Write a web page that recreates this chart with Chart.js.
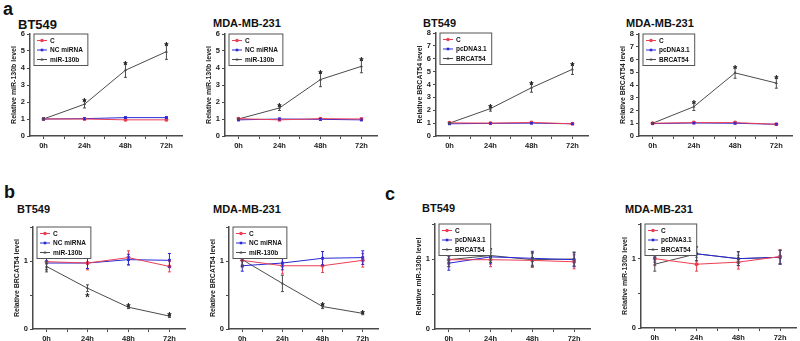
<!DOCTYPE html>
<html>
<head>
<meta charset="utf-8">
<script src="https://cdn.jsdelivr.net/npm/chart.js@4/dist/chart.umd.min.js"></script>
<style>
  body { margin: 0; width: 800px; height: 341px; background: #fff; position: relative; overflow: hidden;
         font-family: "Liberation Sans", Arial, sans-serif; }
  .lbl { position: absolute; font-weight: bold; color: #111; white-space: nowrap; line-height: 1; }
  canvas { position: absolute; }
</style>
</head>
<body>
<div class="lbl" style="left:3px;top:0px;font-size:18px">a</div>
<div class="lbl" style="left:4px;top:183px;font-size:18px">b</div>
<div class="lbl" style="left:385px;top:185px;font-size:18px">c</div>

<div class="lbl" style="left:18px;top:18px;font-size:13px">BT549</div>
<div class="lbl" style="left:213px;top:18px;font-size:11px">MDA-MB-231</div>
<div class="lbl" style="left:423px;top:18px;font-size:11px">BT549</div>
<div class="lbl" style="left:626px;top:18px;font-size:11px">MDA-MB-231</div>
<div class="lbl" style="left:17px;top:204px;font-size:11px">BT549</div>
<div class="lbl" style="left:213px;top:204px;font-size:11px">MDA-MB-231</div>
<div class="lbl" style="left:422px;top:203px;font-size:11px">BT549</div>
<div class="lbl" style="left:625px;top:204px;font-size:11px">MDA-MB-231</div>

<script>
const timeLabels = ['0h', '24h', '48h', '72h'];
const xTickVals = [0, 0.5, 1, 1.5, 2, 2.5, 3];

// a: miR-130b level, BT549
const a1C = [1.00, 1.00, 0.95, 0.95];
const a1NC = [1.00, 1.02, 1.08, 1.08];
const a1Mir = [1.00, 1.87, 3.87, 4.96];
const a1CErr = [0.06, 0.05, 0.05, 0.05];
const a1NCErr = [0.05, 0.05, 0.05, 0.05];
const a1MirErr = [0.05, 0.22, 0.42, 0.45];
// a: miR-130b level, MDA-MB-231
const a2C = [1.02, 0.95, 1.02, 1.00];
const a2NC = [0.95, 1.00, 0.98, 0.95];
const a2Mir = [1.00, 1.65, 3.32, 4.10];
const a2CErr = [0.05, 0.05, 0.05, 0.05];
const a2NCErr = [0.05, 0.05, 0.05, 0.05];
const a2MirErr = [0.04, 0.15, 0.42, 0.38];
// a: BRCAT54 level, BT549
const a3C = [1.02, 1.00, 1.05, 0.95];
const a3PC = [0.95, 0.98, 1.00, 0.95];
const a3Br = [1.00, 2.13, 3.75, 5.18];
const a3CErr = [0.06, 0.06, 0.06, 0.05];
const a3PCErr = [0.05, 0.05, 0.05, 0.05];
const a3BrErr = [0.05, 0.20, 0.35, 0.40];
// a: BRCAT54 level, MDA-MB-231
const a4C = [1.00, 1.05, 1.05, 0.92];
const a4PC = [0.97, 1.02, 1.00, 0.92];
const a4Br = [1.00, 2.30, 4.95, 4.15];
const a4CErr = [0.05, 0.06, 0.06, 0.05];
const a4PCErr = [0.05, 0.05, 0.05, 0.05];
const a4BrErr = [0.05, 0.30, 0.42, 0.40];
const aStars = [0, 1, 1, 1];

// b: BRCAT54 level after miR-130b, BT549
const b1C = [0.99, 0.97, 1.05, 0.92];
const b1NC = [0.97, 0.97, 1.02, 1.01];
const b1Mir = [0.92, 0.60, 0.32, 0.19];
const b1CErr = [0.09, 0.10, 0.10, 0.08];
const b1NCErr = [0.10, 0.08, 0.08, 0.10];
const b1MirErr = [0.08, 0.05, 0.02, 0.02];
const b1Stars = [0, -1, 1, 1];
// b: MDA-MB-231
const b2C = [1.01, 0.93, 0.93, 1.01];
const b2NC = [0.93, 0.97, 1.04, 1.05];
const b2Mir = [1.02, 0.67, 0.33, 0.23];
const b2CErr = [0.10, 0.12, 0.10, 0.10];
const b2NCErr = [0.08, 0.10, 0.10, 0.10];
const b2MirErr = [0.10, 0.12, 0.03, 0.02];
const b2Stars = [0, 0, 1, 1];

// c: miR-130b level after BRCAT54, BT549
const c1C = [0.99, 0.99, 0.98, 0.96];
const c1PC = [0.94, 1.03, 1.01, 0.99];
const c1Br = [0.99, 1.05, 0.99, 1.00];
const c1CErr = [0.10, 0.10, 0.10, 0.10];
const c1PCErr = [0.10, 0.10, 0.10, 0.10];
const c1BrErr = [0.10, 0.10, 0.10, 0.10];
// c: MDA-MB-231
const c2C = [1.00, 0.92, 0.95, 1.03];
const c2PC = [1.05, 1.07, 1.00, 1.02];
const c2Br = [0.92, 1.07, 1.00, 1.02];
const c2CErr = [0.10, 0.10, 0.10, 0.10];
const c2PCErr = [0.10, 0.10, 0.10, 0.10];
const c2BrErr = [0.10, 0.10, 0.10, 0.10];
const noStars = [0, 0, 0, 0];

const miNames = ['C', 'NC miRNA', 'miR-130b'];
const brNames = ['C', 'pcDNA3.1', 'BRCAT54'];

const colors = ['rgb(236,62,82)', 'rgb(40,40,215)', 'rgb(75,75,75)'];
const marks = ['circle', 'rect', 'triangle'];
const axisColor = '#4a4a4a';
const fontFam = '"Liberation Sans", Arial, sans-serif';

const errorBars = {
    id: 'errorBars',
    afterDatasetsDraw(chart) {
        const { ctx, scales: { x, y } } = chart;
        ctx.save();
        ctx.lineWidth = 1;
        chart.data.datasets.forEach(ds => {
            ctx.strokeStyle = ds.borderColor;
            ds.data.forEach((p, i) => {
                const e = ds.errors[i];
                const px = x.getPixelForValue(p.x);
                const top = y.getPixelForValue(p.y + e);
                const bot = y.getPixelForValue(p.y - e);
                ctx.beginPath();
                ctx.moveTo(px, top); ctx.lineTo(px, bot);
                ctx.moveTo(px - 1.5, top); ctx.lineTo(px + 1.5, top);
                ctx.moveTo(px - 1.5, bot); ctx.lineTo(px + 1.5, bot);
                ctx.stroke();
            });
        });
        ctx.restore();
    }
};

const starMarks = {
    id: 'starMarks',
    afterDatasetsDraw(chart, args, opts) {
        const { ctx, scales: { x, y } } = chart;
        const ds = chart.data.datasets[2];
        ctx.save();
        ctx.fillStyle = '#222';
        ctx.font = 'bold 11px ' + fontFam;
        ctx.textAlign = 'center';
        opts.sides.forEach((side, i) => {
            if (!side) return;
            const p = ds.data[i], e = ds.errors[i];
            const px = x.getPixelForValue(p.x);
            if (side > 0) {
                ctx.textBaseline = 'alphabetic';
                ctx.fillText('*', px, y.getPixelForValue(p.y + e) + 5.5);
            } else {
                ctx.textBaseline = 'top';
                ctx.fillText('*', px, y.getPixelForValue(p.y - e) + 1);
            }
        });
        ctx.restore();
    }
};

const boxLegend = {
    id: 'boxLegend',
    afterDraw(chart) {
        const { ctx, chartArea } = chart;
        const sets = chart.data.datasets;
        const x0 = chartArea.left + 4, y0 = chartArea.top;
        const rowH = 9.5;
        ctx.save();
        ctx.font = 'bold 6.5px ' + fontFam;
        const w = Math.max(...sets.map(d => ctx.measureText(d.label).width)) + 21;
        const h = sets.length * rowH + 3;
        ctx.fillStyle = '#fff';
        ctx.fillRect(x0, y0, w, h);
        ctx.strokeStyle = '#555';
        ctx.lineWidth = 1;
        ctx.strokeRect(x0, y0, w, h);
        sets.forEach((d, i) => {
            const cy = y0 + 6.5 + i * rowH;
            ctx.strokeStyle = d.borderColor;
            ctx.fillStyle = d.borderColor;
            ctx.beginPath();
            ctx.moveTo(x0 + 3, cy); ctx.lineTo(x0 + 13, cy);
            ctx.stroke();
            Chart.helpers.drawPoint(ctx, { pointStyle: d.pointStyle, radius: 1.8, rotation: 0, borderWidth: 0 }, x0 + 8, cy);
            ctx.fillStyle = '#111';
            ctx.textBaseline = 'middle';
            ctx.fillText(d.label, x0 + 16, cy + 0.5);
        });
        ctx.restore();
    }
};

function makePanel(area, yMax, yTicks, yTitle, names, series, errs, stars) {
    const canvas = document.createElement('canvas');
    canvas.width = area[2] - area[0] + 36;
    canvas.height = area[3] - area[1] + 30;
    canvas.style.left = (area[0] - 32) + 'px';
    canvas.style.top = (area[1] - 8) + 'px';
    document.body.appendChild(canvas);

    const tickFont = { family: fontFam, size: 7.5, weight: 'bold' };
    new Chart(canvas, {
        type: 'line',
        data: {
            datasets: series.map((vals, k) => ({
                label: names[k],
                data: vals.map((v, i) => ({ x: i, y: v })),
                errors: errs[k],
                borderColor: colors[k],
                backgroundColor: colors[k],
                borderWidth: 1,
                pointStyle: marks[k],
                pointRadius: k === 2 ? 1.8 : 2,
                pointBorderWidth: 0,
                tension: 0,
                fill: false
            }))
        },
        options: {
            responsive: false,
            animation: false,
            layout: { padding: { left: 0, top: 8, right: 4, bottom: 0 } },
            plugins: {
                legend: { display: false },
                tooltip: { enabled: false },
                starMarks: { sides: stars }
            },
            scales: {
                x: {
                    type: 'linear',
                    min: -0.33,
                    max: 3.38,
                    afterBuildTicks: ax => { ax.ticks = xTickVals.map(v => ({ value: v })); },
                    ticks: {
                        autoSkip: false, maxRotation: 0, padding: 2, color: '#222', font: tickFont,
                        callback: v => Number.isInteger(v) ? timeLabels[v] : ''
                    },
                    grid: { drawOnChartArea: false, tickLength: 3, color: axisColor },
                    border: { color: axisColor, width: 1.5 },
                    afterFit: s => { s.height = 22; }
                },
                y: {
                    min: 0,
                    max: yMax,
                    afterBuildTicks: ax => { ax.ticks = yTicks.map(v => ({ value: v })); },
                    ticks: {
                        autoSkip: false, padding: 2, color: '#222', font: tickFont,
                        callback: v => Number.isInteger(v) ? v : ''
                    },
                    grid: { drawOnChartArea: false, tickLength: 3, color: axisColor },
                    border: { color: axisColor, width: 1.5 },
                    title: {
                        display: true, text: yTitle, color: '#222',
                        font: { family: fontFam, size: 7, weight: 'bold' },
                        padding: { top: 12, bottom: 0 }
                    },
                    afterFit: s => { s.width = 32; }
                }
            }
        },
        plugins: [errorBars, starMarks, boxLegend]
    });
}

const aTicks6 = [0, 1, 2, 3, 4, 5, 6];
const aTicks8 = [0, 1, 2, 3, 4, 5, 6, 7, 8];
const smallTicks = [0, 0.5, 1, 1.5];

makePanel([30, 34, 182, 136], 6, aTicks6, 'Relative miR-130b level', miNames,
    [a1C, a1NC, a1Mir], [a1CErr, a1NCErr, a1MirErr], aStars);
makePanel([225, 34, 377, 136], 6, aTicks6, 'Relative miR-130b level', miNames,
    [a2C, a2NC, a2Mir], [a2CErr, a2NCErr, a2MirErr], aStars);
makePanel([436, 33, 588, 136], 8, aTicks8, 'Relative BRCAT54 level', brNames,
    [a3C, a3PC, a3Br], [a3CErr, a3PCErr, a3BrErr], aStars);
makePanel([639, 34, 792, 136], 8, aTicks8, 'Relative BRCAT54 level', brNames,
    [a4C, a4PC, a4Br], [a4CErr, a4PCErr, a4BrErr], aStars);

makePanel([33, 227, 185, 329], 1.5, smallTicks, 'Relative BRCAT54 level', miNames,
    [b1C, b1NC, b1Mir], [b1CErr, b1NCErr, b1MirErr], b1Stars);
makePanel([229, 227, 378, 329], 1.5, smallTicks, 'Relative BRCAT54 level', miNames,
    [b2C, b2NC, b2Mir], [b2CErr, b2NCErr, b2MirErr], b2Stars);
makePanel([435, 224, 590, 329], 1.5, smallTicks, 'Relative miR-130b level', brNames,
    [c1C, c1PC, c1Br], [c1CErr, c1PCErr, c1BrErr], noStars);
makePanel([641, 224, 796, 328], 1.5, smallTicks, 'Relative miR-130b level', brNames,
    [c2C, c2PC, c2Br], [c2CErr, c2PCErr, c2BrErr], noStars);
</script>
</body>
</html>
